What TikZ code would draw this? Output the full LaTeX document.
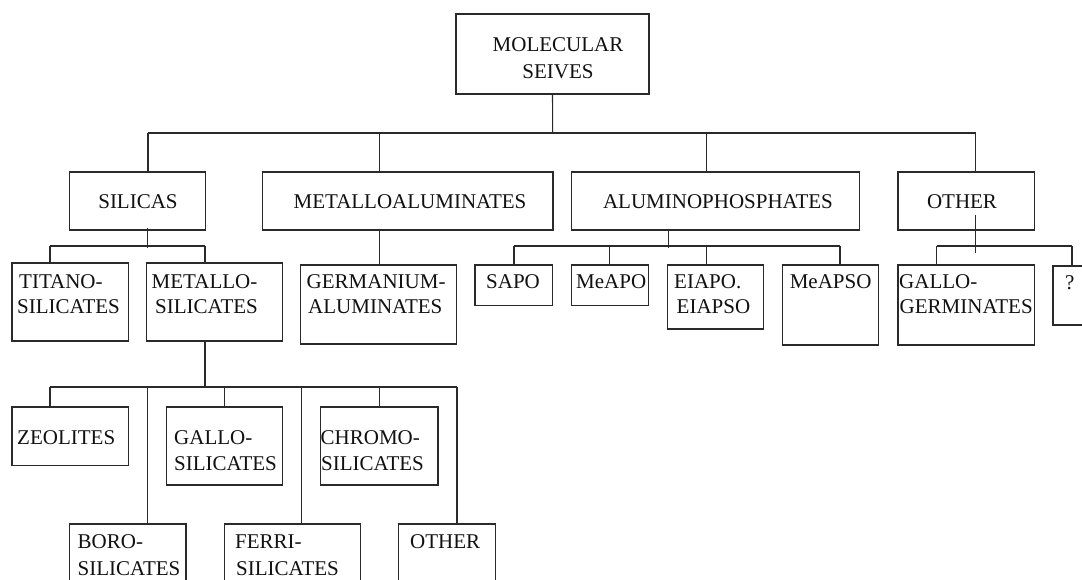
\documentclass[tikz,border=0pt]{standalone}
\usepackage{fontspec}
\setmainfont{Liberation Serif}
\begin{document}
\begin{tikzpicture}[x=1pt,y=-1pt,
  box/.style={draw=linec, line width=1.1pt, inner sep=0pt, outer sep=0pt, anchor=north west},
  lnk/.style={draw=linec, line width=1.1pt},
  thk/.style={draw=linec, line width=1.9pt},
  txt/.style={inner sep=0pt, anchor=base west, text=textc, font=\fontsize{21}{25}\selectfont},
  ctxt/.style={txt, anchor=base}]
\definecolor{linec}{HTML}{2A2A2A}
\definecolor{textc}{HTML}{111111}
\useasboundingbox (0,0) rectangle (1082,580);
\clip (0,0) rectangle (1082,580);
\fill[white] (0,0) rectangle (1082,580);
% boxes
\node[box, minimum width=193pt, minimum height=80pt] (mol) at (456,14) {};
\node[box, minimum width=136pt, minimum height=58pt] (sil) at (69.6,172) {};
\node[box, minimum width=290.6pt, minimum height=58pt] (mal) at (262.4,172) {};
\node[box, minimum width=287.9pt, minimum height=58pt] (alp) at (571.8,172) {};
\node[box, minimum width=136.3pt, minimum height=58pt] (oth) at (898,172) {};
\node[box, minimum width=116.4pt, minimum height=78pt] (tit) at (12,263) {};
\node[box, minimum width=136pt, minimum height=78pt] (mets) at (146.4,263) {};
\node[box, minimum width=155.7pt, minimum height=79pt] (ger) at (300.6,265) {};
\node[box, minimum width=77.7pt, minimum height=40.7pt] (sapo) at (475,265) {};
\node[box, minimum width=76.7pt, minimum height=40.7pt] (meapo) at (571.8,265) {};
\node[box, minimum width=95.7pt, minimum height=64pt] (eiapo) at (667.9,265) {};
\node[box, minimum width=96pt, minimum height=80pt] (meapso) at (782.7,265) {};
\node[box, minimum width=136.3pt, minimum height=80pt] (ggerm) at (898,265) {};
\node[box, minimum width=57pt, minimum height=59pt] (q) at (1053,266) {};
\node[box, minimum width=116.4pt, minimum height=58.3pt] (zeo) at (12,407) {};
\node[box, minimum width=116.1pt, minimum height=78pt] (gals) at (166.3,407) {};
\node[box, minimum width=117.8pt, minimum height=78pt] (chro) at (320.2,407) {};
\node[box, minimum width=116.1pt, minimum height=86pt] (boro) at (69.9,524) {};
\node[box, minimum width=136pt, minimum height=86pt] (ferri) at (224.5,524) {};
\node[box, minimum width=97.1pt, minimum height=86pt] (oth2) at (398.8,524) {};
% texts
\node[ctxt] (tmol1) at (558,52) {MOLECULAR};
\node[ctxt] (tmol2) at (558,79) {SEIVES};
\node[ctxt] (tsil) at (138,208.5) {SILICAS};
\node[ctxt] (tmal) at (410,208.5) {METALLOALUMINATES};
\node[ctxt] (talp) at (718,208.5) {ALUMINOPHOSPHATES};
\node[ctxt] (toth) at (962,208.5) {OTHER};
\node[txt] (ttit1) at (19,288) {TITANO-};
\node[txt] (ttit2) at (17,313.5) {SILICATES};
\node[txt] (tmets1) at (151.5,288) {METALLO-};
\node[txt] (tmets2) at (155,313.5) {SILICATES};
\node[txt] (tger1) at (306.5,288) {GERMANIUM-};
\node[txt] (tger2) at (308,313.5) {ALUMINATES};
\node[txt] (tsapo) at (486,288) {SAPO};
\node[txt] (tmeapo) at (576,288) {MeAPO};
\node[txt] (teiapo1) at (674,288) {EIAPO.};
\node[txt] (teiapo2) at (676.5,313.5) {EIAPSO};
\node[txt] (tmeapso) at (789.6,288) {MeAPSO};
\node[txt] (tgg1) at (899,288) {GALLO-};
\node[txt] (tgg2) at (899.5,313.5) {GERMINATES};
\node[txt] (tq) at (1065,289) {?};
\node[txt] (tzeo) at (17,444.5) {ZEOLITES};
\node[txt] (tgals1) at (174,444.5) {GALLO-};
\node[txt] (tgals2) at (174,470) {SILICATES};
\node[txt] (tchro1) at (320.5,444.5) {CHROMO-};
\node[txt] (tchro2) at (321,470) {SILICATES};
\node[txt] (tboro1) at (77.5,548.5) {BORO-};
\node[txt] (tboro2) at (77.5,575) {SILICATES};
\node[txt] (tferri1) at (235,548.5) {FERRI-};
\node[txt] (tferri2) at (236,575) {SILICATES};
\node[txt] (toth2) at (410,548.5) {OTHER};
% top level connectors
\coordinate (tb) at (552.7,133);
\coordinate (tbL) at (148,133);
\coordinate (tb2) at (379.5,133);
\coordinate (tb3) at (706.6,133);
\coordinate (tbR) at (975.5,133);
\draw[lnk] (mol.south) -- (tb);
\draw[lnk] (tbL) -- (tbR);
\draw[lnk] (tbL) -- (tbL |- sil.north);
\draw[lnk] (tb2) -- (tb2 |- mal.north);
\draw[lnk] (tb3) -- (tb3 |- alp.north);
\draw[lnk] (tbR) -- (tbR |- oth.north);
% silicas
\coordinate (s0) at (147.4,248);
\coordinate (s1) at (50,246);
\coordinate (s2) at (205,246);
\draw[lnk] ([yshift=2pt]s0 |- sil.south) -- (s0);
\draw[lnk] (s1) -- (s2);
\draw[lnk] (s1) -- (s1 |- tit.north);
\draw[lnk] (s2) -- (s2 |- mets.north);
% metalloaluminates
\coordinate (m1) at (379.5,250);
\draw[lnk] (m1 |- mal.south) -- (m1 |- ger.north);
% aluminophosphates
\coordinate (a0) at (668.6,248.5);
\coordinate (a1) at (514,246);
\coordinate (a2) at (609.8,246);
\coordinate (a3) at (706.3,246);
\coordinate (a4) at (840,246);
\draw[lnk] (a0 |- alp.south) -- (a0);
\draw[lnk] (a1) -- (a4);
\draw[lnk] (a1) -- (a1 |- sapo.north);
\draw[lnk] (a2) -- (a2 |- meapo.north);
\draw[lnk] (a3) -- (a3 |- eiapo.north);
\draw[lnk] (a4) -- (a4 |- meapso.north);
% other
\coordinate (o0t) at (975.5,215);
\coordinate (o0) at (975.5,252.7);
\coordinate (o1) at (936.8,246);
\coordinate (o2) at (1072,246);
\draw[lnk] (o0t) -- (o0);
\draw[lnk] (o1) -- (o2);
\draw[lnk] (o1) -- (o1 |- ggerm.north);
\draw[lnk] (o2) -- (o2 |- q.north);
% metallosilicates
\coordinate (k0) at (204.9,387);
\coordinate (k1) at (50,387);
\coordinate (k2) at (147.4,387);
\coordinate (k3) at (224.5,387);
\coordinate (k4) at (301.7,387);
\coordinate (k5) at (379.5,387);
\coordinate (k6) at (457,387);
\draw[thk] (k0 |- mets.south) -- (k0);
\draw[lnk] (k1) -- (k6);
\draw[lnk] (k1) -- (k1 |- zeo.north);
\draw[lnk] (k2) -- (k2 |- boro.north);
\draw[lnk] (k3) -- (k3 |- gals.north);
\draw[lnk] (k4) -- (k4 |- ferri.north);
\draw[lnk] (k5) -- (k5 |- chro.north);
\draw[lnk] (k6) -- (k6 |- oth2.north);
\end{tikzpicture}
\end{document}
